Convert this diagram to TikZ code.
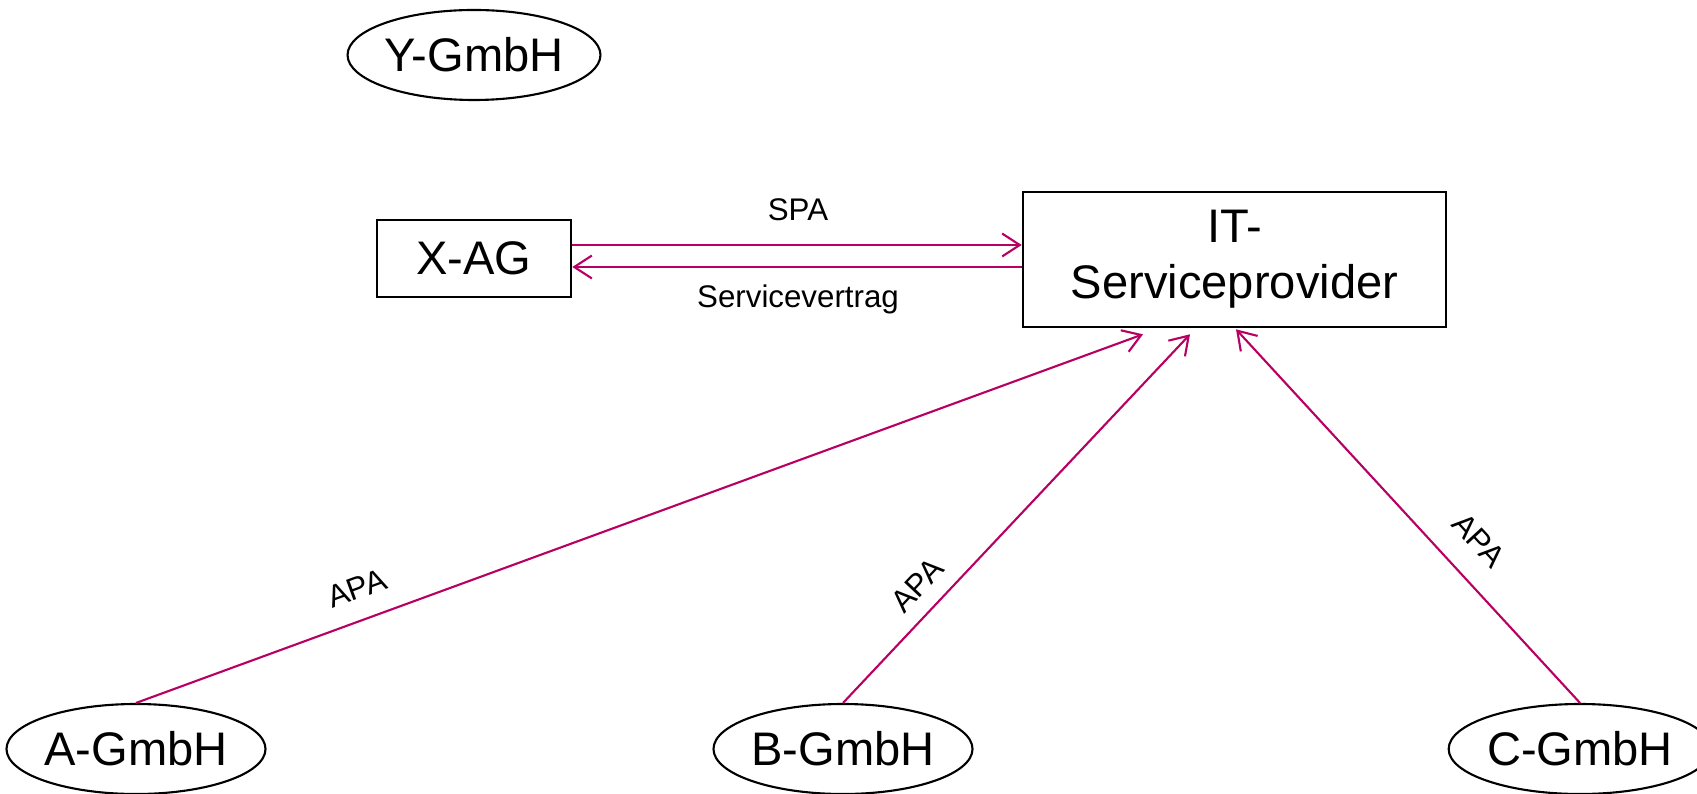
\documentclass[tikz,border=0pt]{standalone}
\usepackage{fontspec}
\setmainfont{Liberation Sans}
\usetikzlibrary{shapes.geometric,arrows.meta}
\definecolor{conncol}{RGB}{183,0,98}
\tikzset{
  bigtext/.style={font=\fontsize{13.4}{16}\selectfont},
  oval/.style={ellipse, draw, line width=0.6pt, minimum width=25.0mm, minimum height=9.0mm, inner sep=0pt, bigtext},
  boxnode/.style={rectangle, draw, line width=0.75pt, inner sep=0pt, bigtext, align=center},
  conn/.style={draw=conncol, line width=0.6pt, -{Straight Barb[length=5pt,width=6.5pt]}},
  lbl/.style={font=\fontsize{8.9}{10.5}\selectfont}
}
\begin{document}
\begin{tikzpicture}[x=0.1mm,y=-0.1mm]
\useasboundingbox (0,0) rectangle (1697,794);
\node[oval] (y) at (474,55) {Y-GmbH};
\node[boxnode, minimum width=19.4mm, minimum height=7.7mm] (x) at (474,258.5) {X-AG};
\node[boxnode, minimum width=42.3mm, minimum height=13.5mm] (it) at (1234.5,259.5) {IT-\\Serviceprovider};
\node[oval] (a) at (136,749) {A-GmbH};
\node[oval] (b) at (843,749) {B-GmbH};
\node[oval] (c) at (1580,749) {C-GmbH};

\draw[conn] ([yshift=1.35mm]x.east) -- ([yshift=1.35mm]x.east -| it.west);
\draw[conn] ([yshift=-0.85mm]x.east -| it.west) -- ([yshift=-0.85mm]x.east);
\node[lbl] (spa) at (798,210) {SPA};
\node[lbl] (sv) at (798,299) {Servicevertrag};

\draw[conn] (a.north) -- node[lbl, pos=0.23, sloped, above, inner sep=2.0mm] (la) {APA} ([xshift=-9.15mm,yshift=-0.6mm]it.south);
\draw[conn] (b.north) -- node[lbl, pos=0.27, sloped, above, inner sep=1.5mm] (lb) {APA} ([xshift=-4.45mm,yshift=-0.6mm]it.south);
\draw[conn] (c.north) -- node[lbl, pos=0.37, sloped, above, inner sep=2.4mm] (lc) {APA} ([xshift=0.15mm,yshift=-0.1mm]it.south);
\end{tikzpicture}
\end{document}
